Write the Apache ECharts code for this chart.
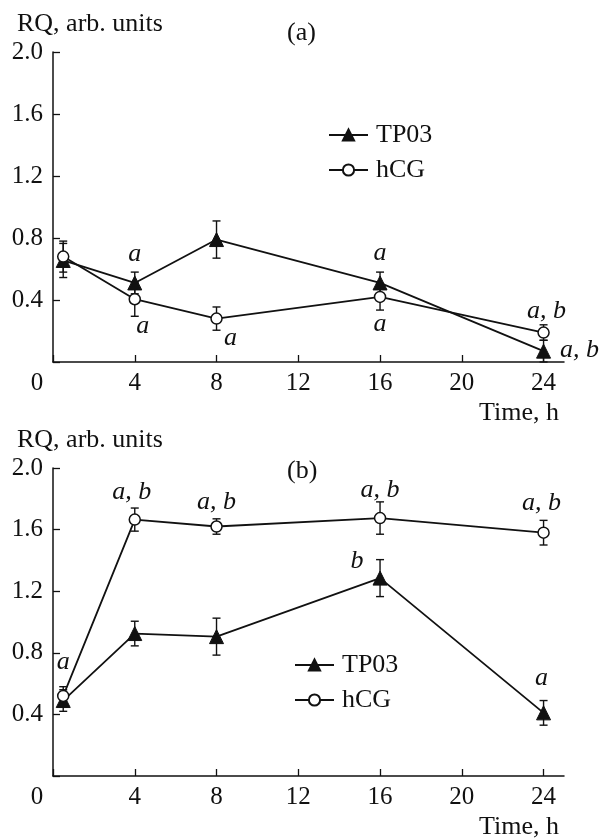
<!DOCTYPE html>
<html>
<head>
<meta charset="utf-8">
<script src="https://cdn.jsdelivr.net/npm/echarts@6/dist/echarts.min.js"></script>
<style>
html,body{margin:0;padding:0;background:#fff;}
#chart{width:604px;height:840px;}
</style>
</head>
<body>
<div id="chart"></div>
<script>
// ---- data ----
const timePoints = [0.5, 4, 8, 16, 24];
const xTickValues = [0, 4, 8, 12, 16, 20, 24];

// panel (a)
const aTP03 = [0.655, 0.51, 0.79, 0.51, 0.07];
const aTP03Err = [0.11, 0.07, 0.12, 0.07, 0.07];
const aHCG = [0.68, 0.405, 0.28, 0.42, 0.19];
const aHCGErr = [0.10, 0.11, 0.075, 0.085, 0.05];
const aTP03Notes = ['', 'a', '', 'a', 'a, b'];
const aHCGNotes = ['', 'a', 'a', 'a', 'a, b'];

// panel (b)
const bTP03 = [0.49, 0.925, 0.905, 1.285, 0.41];
const bTP03Err = [0.07, 0.08, 0.12, 0.12, 0.08];
const bHCG = [0.52, 1.665, 1.62, 1.675, 1.58];
const bHCGErr = [0.06, 0.075, 0.05, 0.105, 0.08];
const bTP03Notes = ['a', '', '', 'b', 'a'];
const bHCGNotes = ['', 'a, b', 'a, b', 'a, b', 'a, b'];

const seriesNames = ['TP03', 'hCG'];
const panelTitles = ['(a)', '(b)'];
const yAxisTitle = 'RQ, arb. units';
const xAxisTitle = 'Time, h';

// ---- styling / placement (not data) ----
const FONT = 'Liberation Serif';
const INK = '#111';
const aTP03Off = [null, [0, -29], null, [0, -30], [36, -1]];
const aHCGOff  = [null, [8, 27], [14, 20], [0, 27], [3, -21]];
const bTP03Off = [[0, -38], null, null, [-23, -17], [-2, -35]];
const bHCGOff  = [null, [-3, -27], [0, -24], [0, -28], [-2, -30]];

function lineData(vals, notes, offs) {
  return vals.map(function (v, i) {
    const item = { value: [timePoints[i], v] };
    if (notes[i]) {
      item.label = {
        show: true, formatter: notes[i], position: 'inside',
        offset: offs[i], fontFamily: FONT, fontStyle: 'italic', fontSize: 26,
        color: INK, align: 'center', verticalAlign: 'middle'
      };
    }
    return item;
  });
}
function errData(vals, errs) {
  return vals.map(function (v, i) { return [timePoints[i], v - errs[i], v + errs[i]]; });
}
let errCount = 0;
function errSeries(vals, errs, idx) {
  errCount += 1;
  return {
    type: 'custom', name: 'errorbar' + errCount,
    xAxisIndex: idx, yAxisIndex: idx, z: 1, silent: true,
    data: errData(vals, errs),
    renderItem: function (params, api) {
      const x = api.value(0);
      const lo = api.coord([x, api.value(1)]);
      const hi = api.coord([x, api.value(2)]);
      const w = 4;
      const st = { stroke: INK, lineWidth: 1.4 };
      return {
        type: 'group',
        children: [
          { type: 'line', shape: { x1: hi[0], y1: hi[1], x2: lo[0], y2: lo[1] }, style: st },
          { type: 'line', shape: { x1: hi[0] - w, y1: hi[1], x2: hi[0] + w, y2: hi[1] }, style: st },
          { type: 'line', shape: { x1: lo[0] - w, y1: lo[1], x2: lo[0] + w, y2: lo[1] }, style: st }
        ]
      };
    }
  };
}
function lineSeries(name, vals, notes, offs, idx) {
  const tri = name === 'TP03';
  return {
    type: 'line', name: name, xAxisIndex: idx, yAxisIndex: idx, z: 3,
    symbol: tri ? 'triangle' : 'circle',
    symbolSize: tri ? 14 : 11,
    itemStyle: tri ? { color: INK, borderColor: INK, borderWidth: 1 }
                   : { color: '#fff', borderColor: INK, borderWidth: 1.5 },
    lineStyle: { color: INK, width: 1.8 },
    label: { show: false },
    emphasis: { disabled: true },
    data: lineData(vals, notes, offs)
  };
}
function xAxisCfg(idx) {
  return {
    type: 'value', gridIndex: idx, min: 0, max: 25,
    name: xAxisTitle, nameLocation: 'end', nameGap: -5,
    nameTextStyle: { fontFamily: FONT, fontSize: 26, color: INK, align: 'right', verticalAlign: 'top', padding: [38, 0, 0, 0] },
    axisLine: { show: true, lineStyle: { color: INK, width: 1.5 } },
    axisTick: { show: true, inside: true, length: 7, customValues: xTickValues, lineStyle: { color: INK, width: 1.3 } },
    axisLabel: {
      customValues: xTickValues, margin: 9, fontFamily: FONT, fontSize: 25, color: INK,
      formatter: function (v) { return v === 0 ? '{z|0}' : String(v); },
      rich: { z: { fontFamily: FONT, fontSize: 25, color: INK, padding: [0, 32, 0, 0] } }
    },
    splitLine: { show: false }
  };
}
function yAxisCfg(idx) {
  return {
    type: 'value', gridIndex: idx, min: 0, max: 2.0, interval: 0.4,
    axisLine: { show: true, lineStyle: { color: INK, width: 1.5 } },
    axisTick: { show: true, inside: true, length: 7, lineStyle: { color: INK, width: 1.3 } },
    axisLabel: {
      margin: 10, fontFamily: FONT, fontSize: 25, color: INK,
      formatter: function (v) { return v === 0 ? '' : v.toFixed(1); }
    },
    splitLine: { show: false }
  };
}
function legendCfg(left, top) {
  return {
    orient: 'vertical', left: left, top: top, padding: 0,
    itemWidth: 39, itemHeight: 14, itemGap: 9, selectedMode: false,
    data: seriesNames,
    textStyle: { fontFamily: FONT, fontSize: 26, lineHeight: 26, color: INK, padding: [0, 0, 0, 3] }
  };
}
function titleCfg(text, left, top) {
  return { text: text, left: left, top: top, padding: 0,
    textStyle: { fontFamily: FONT, fontSize: 26, fontWeight: 'normal', color: INK } };
}

const chart = echarts.init(document.getElementById('chart'), null, { renderer: 'canvas' });
chart.setOption({
  backgroundColor: '#fff',
  animation: false,
  title: [
    titleCfg(yAxisTitle, 17, 11),
    titleCfg(panelTitles[0], 287, 20),
    titleCfg(yAxisTitle, 17, 427),
    titleCfg(panelTitles[1], 287, 458)
  ],
  legend: [legendCfg(328, 122), legendCfg(294, 652)],
  grid: [
    { left: 53, right: 40, top: 52, height: 310 },
    { left: 53, right: 40, top: 468, height: 310 }
  ],
  xAxis: [xAxisCfg(0), xAxisCfg(1)],
  yAxis: [yAxisCfg(0), yAxisCfg(1)],
  series: [
    errSeries(aTP03, aTP03Err, 0),
    errSeries(aHCG, aHCGErr, 0),
    errSeries(bTP03, bTP03Err, 1),
    errSeries(bHCG, bHCGErr, 1),
    lineSeries('TP03', aTP03, aTP03Notes, aTP03Off, 0),
    lineSeries('hCG', aHCG, aHCGNotes, aHCGOff, 0),
    lineSeries('TP03', bTP03, bTP03Notes, bTP03Off, 1),
    lineSeries('hCG', bHCG, bHCGNotes, bHCGOff, 1)
  ]
});
</script>
</body>
</html>
